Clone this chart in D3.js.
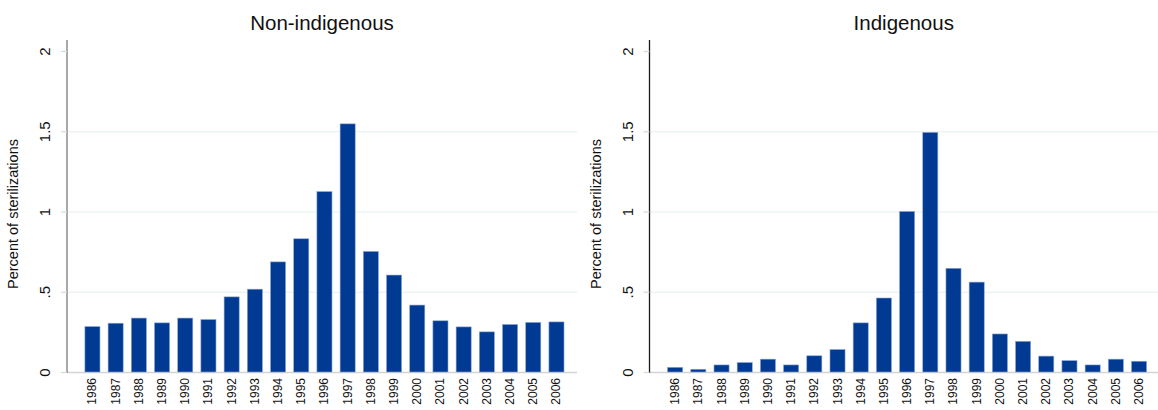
<!DOCTYPE html>
<html>
<head>
<meta charset="utf-8">
<script src="https://cdn.jsdelivr.net/npm/d3@7"></script>
<style>
  body { margin: 0; background: #fff; }
  svg { display: block; font-family: "Liberation Sans", Arial, sans-serif; }
</style>
</head>
<body>
<div id="chart"></div>
<script>
var years = ["1986","1987","1988","1989","1990","1991","1992","1993","1994","1995","1996",
             "1997","1998","1999","2000","2001","2002","2003","2004","2005","2006"];
var nonIndigenous = [0.283, 0.304, 0.336, 0.306, 0.336, 0.327, 0.468, 0.516, 0.686, 0.830, 1.124,
                     1.546, 0.751, 0.604, 0.417, 0.319, 0.281, 0.250, 0.296, 0.309, 0.312];
var indigenous = [0.029, 0.017, 0.044, 0.059, 0.080, 0.044, 0.101, 0.140, 0.306, 0.461, 1.000,
                  1.493, 0.646, 0.560, 0.237, 0.191, 0.099, 0.071, 0.044, 0.080, 0.067];
var yTicks = [0, 0.5, 1, 1.5, 2];
var yTickLabels = ["0", ".5", "1", "1.5", "2"];

var svg = d3.select("#chart")
  .append("svg")
  .attr("width", 1158)
  .attr("height", 410);

function drawPanel(opts) {
  var y0 = 372, yTop = 40;
  var yScale = d3.scaleLinear()
    .domain([0, 2])
    .range([y0, 51]);

  var xScale = d3.scaleBand()
    .domain(years)
    .range([opts.bandLeft, opts.bandRight])
    .paddingInner(0.35)
    .paddingOuter(0.5);

  var g = svg.append("g");

  // gridlines
  g.selectAll("line.grid")
    .data([0.5, 1, 1.5])
    .enter()
    .append("line")
    .attr("x1", opts.axisX)
    .attr("x2", opts.right)
    .attr("y1", d => yScale(d) + 0.5)
    .attr("y2", d => yScale(d) + 0.5)
    .attr("stroke", "#e6eeef")
    .attr("stroke-width", 1);

  // x baseline
  g.append("line")
    .attr("x1", opts.axisX)
    .attr("x2", opts.right)
    .attr("y1", y0 + 0.5)
    .attr("y2", y0 + 0.5)
    .attr("stroke", "#d4d4d4")
    .attr("stroke-width", 1.5);

  // bars
  g.selectAll("rect")
    .data(years.map((yr, i) => ({ year: yr, value: opts.values[i] })))
    .enter()
    .append("rect")
    .attr("x", d => xScale(d.year))
    .attr("y", d => yScale(d.value))
    .attr("width", xScale.bandwidth())
    .attr("height", d => y0 - yScale(d.value))
    .attr("fill", "#003a93")
    .attr("stroke", "#8aa6d2")
    .attr("stroke-width", 0.6);

  // y axis line
  g.append("line")
    .attr("x1", opts.axisX)
    .attr("x2", opts.axisX)
    .attr("y1", yTop)
    .attr("y2", y0 + 1)
    .attr("stroke", opts.axisColor)
    .attr("stroke-width", 1.3);

  // y ticks + labels
  var yAxis = g.append("g")
    .attr("transform", "translate(" + opts.axisX + ",0)")
    .call(d3.axisLeft(yScale)
      .tickValues(yTicks)
      .tickFormat((d, i) => yTickLabels[i])
      .tickSize(6)
      .tickPadding(0));
  yAxis.select(".domain").remove();
  yAxis.selectAll(".tick line").attr("stroke", "#d8d8d8").attr("stroke-width", 1.2);
  yAxis.selectAll(".tick text")
    .attr("x", 0)
    .attr("dy", 0)
    .attr("transform", "translate(-17,0) rotate(-90)")
    .attr("text-anchor", "middle")
    .attr("font-size", "15px")
    .attr("fill", "#111");

  // x tick labels
  var xAxis = g.append("g")
    .attr("transform", "translate(0," + y0 + ")")
    .call(d3.axisBottom(xScale).tickSize(0).tickPadding(0));
  xAxis.select(".domain").remove();
  xAxis.selectAll(".tick text")
    .attr("y", 0)
    .attr("dy", 0)
    .attr("transform", "translate(4,6) rotate(-90)")
    .attr("text-anchor", "end")
    .attr("font-size", "12px")
    .attr("fill", "#111");

  // y title
  g.append("text")
    .attr("transform", "translate(" + (opts.axisX - 49) + "," + 214 + ") rotate(-90)")
    .attr("text-anchor", "middle")
    .attr("font-size", "14.5px")
    .attr("fill", "#111")
    .text("Percent of sterilizations");

  // panel title
  g.append("text")
    .attr("x", (opts.axisX + opts.right) / 2)
    .attr("y", 30)
    .attr("text-anchor", "middle")
    .attr("font-size", "20.5px")
    .attr("fill", "#111")
    .text(opts.title);
}

drawPanel({
  title: "Non-indigenous",
  values: nonIndigenous,
  axisX: 67,
  right: 577,
  bandLeft: 73.3,
  bandRight: 575.6,
  axisColor: "#7a7a7a"
});

drawPanel({
  title: "Indigenous",
  values: indigenous,
  axisX: 649.5,
  right: 1158,
  bandLeft: 656,
  bandRight: 1158.2,
  axisColor: "#1a1a1a"
});
</script>
</body>
</html>
